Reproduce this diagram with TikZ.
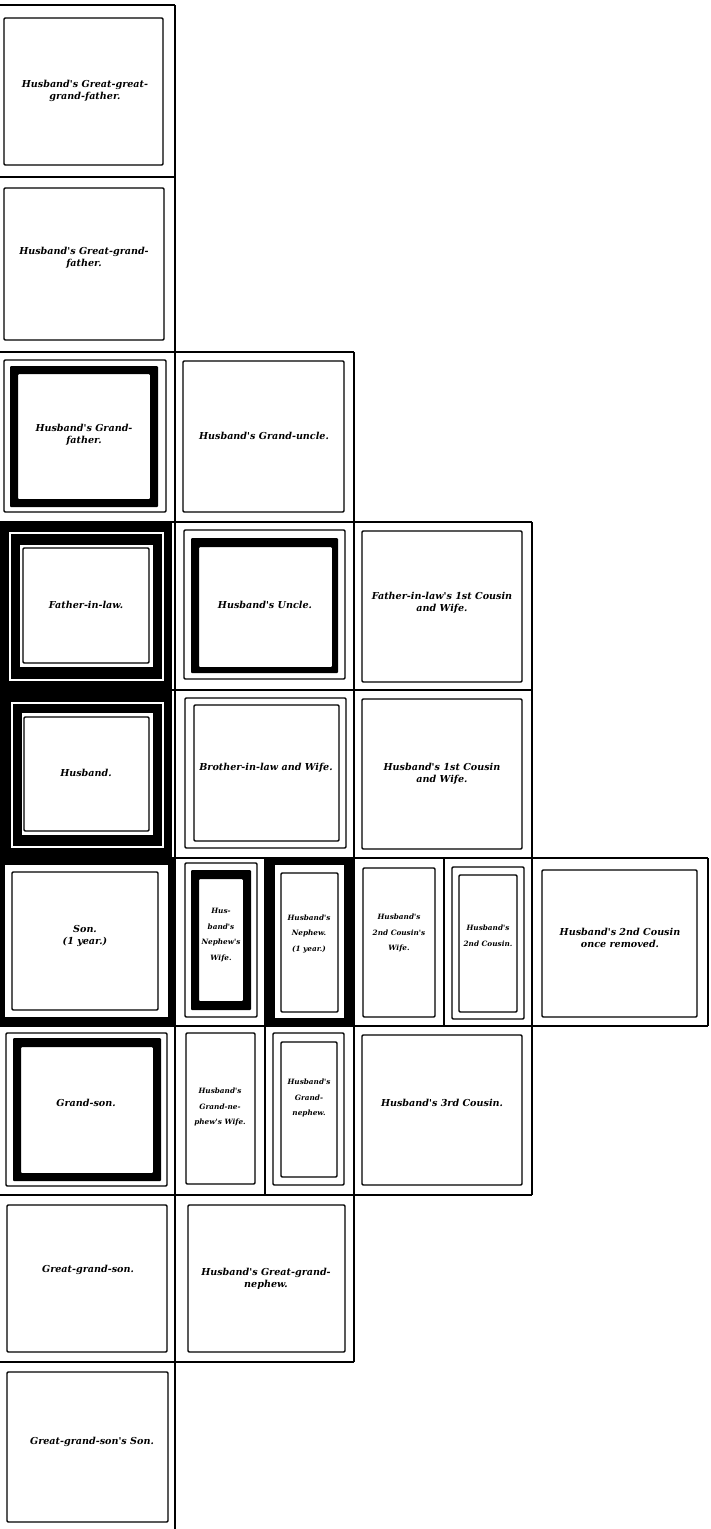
\documentclass[tikz,border=0pt]{standalone}
\usepackage{fontspec}
\newfontfamily\chartfont{DejaVu Serif}
\newcommand{\lblfont}{\chartfont\fontsize{9.6}{12}\selectfont\bfseries\itshape}
\newcommand{\nlblfont}{\chartfont\fontsize{7.3}{15.5}\selectfont\bfseries\itshape}
\begin{document}
\begin{tikzpicture}[x=1pt,y=-1pt,
  gridline/.style={line width=1.3pt},
  frame/.style={draw, line width=1.4pt, rounded corners=1.2pt},
  whiteline/.style={draw=white, line width=1.6pt},
  lbl/.style={font=\lblfont, align=center, inner sep=0pt},
  nlbl/.style={font=\nlblfont, align=center, inner sep=0pt}]
\useasboundingbox (0,0) rectangle (711,1529);
\fill[white] (0,0) rectangle (711,1529);
% black mourning fills
\fill (0,522) rectangle (172,858);
\fill (0,858) rectangle (175,1026);
\fill (265,858) rectangle (355,1026);
% grid
\draw[gridline] (0,5) -- (175,5);
\draw[gridline] (0,177) -- (175,177);
\draw[gridline] (0,352) -- (354,352);
\draw[gridline] (0,522) -- (532,522);
\draw[gridline] (0,690) -- (532,690);
\draw[gridline] (0,858) -- (708,858);
\draw[gridline] (0,1026) -- (708,1026);
\draw[gridline] (0,1195) -- (532,1195);
\draw[gridline] (0,1362) -- (354,1362);
\draw[gridline] (175,5) -- (175,1529);
\draw[gridline] (354,352) -- (354,1362);
\draw[gridline] (532,522) -- (532,1195);
\draw[gridline] (708,858) -- (708,1026);
\draw[gridline] (265,858) -- (265,1195);
\draw[gridline] (444,858) -- (444,1026);
% row 1-2
\draw[frame] (4,18) rectangle (163,165);
\draw[frame] (4,188) rectangle (164,340);
% row 3
\draw[frame] (4,360) rectangle (166,512);
\fill[even odd rule, rounded corners=1pt] (10,366) rectangle (158,507) (18,374) rectangle (150,499);
\draw[frame] (183,361) rectangle (344,512);
% row 4
\draw[whiteline] (10,533) rectangle (163,680);
\fill[white] (20,545) rectangle (153,667);
\draw[frame] (23,548) rectangle (149,663);
\draw[frame] (184,530) rectangle (345,679);
\fill[even odd rule, rounded corners=1pt] (191,538) rectangle (338,673) (199,547) rectangle (332,667);
\draw[frame] (362,531) rectangle (522,682);
% row 5
\draw[whiteline] (12,703) rectangle (163,847);
\fill[white] (22,713) rectangle (153,835);
\draw[frame] (24,717) rectangle (149,831);
\draw[frame] (185,698) rectangle (346,848);
\draw[frame] (194,705) rectangle (339,841);
\draw[frame] (362,699) rectangle (522,849);
% row 6
\fill[white] (5,865) rectangle (168,1017);
\draw[frame] (12,872) rectangle (158,1010);
\draw[frame] (185,863) rectangle (257,1017);
\fill[even odd rule, rounded corners=1pt] (191,870) rectangle (251,1010) (199,879) rectangle (243,1001);
\fill[white] (275,865) rectangle (344,1018);
\draw[frame] (281,873) rectangle (338,1012);
\draw[frame] (363,868) rectangle (435,1017);
\draw[frame] (452,867) rectangle (524,1019);
\draw[frame] (459,875) rectangle (517,1012);
\draw[frame] (542,870) rectangle (697,1017);
% row 7
\draw[frame] (6,1033) rectangle (167,1186);
\fill[even odd rule, rounded corners=1pt] (13,1038) rectangle (161,1181) (21,1047) rectangle (153,1173);
\draw[frame] (186,1033) rectangle (255,1184);
\draw[frame] (273,1033) rectangle (344,1185);
\draw[frame] (281,1042) rectangle (337,1177);
\draw[frame] (362,1035) rectangle (522,1185);
% row 8-9
\draw[frame] (7,1205) rectangle (167,1352);
\draw[frame] (188,1205) rectangle (345,1352);
\draw[frame] (7,1372) rectangle (168,1522);
% labels
\node[lbl] (gggf) at (85,91) {Husband's Great-great-\\grand-father.};
\node[lbl] (ggf) at (84,258) {Husband's Great-grand-\\father.};
\node[lbl] (gf) at (84,435) {Husband's Grand-\\father.};
\node[lbl] (gu) at (264,436) {Husband's Grand-uncle.};
\node[lbl] (fil) at (86,605) {Father-in-law.};
\node[lbl] (uncle) at (265,605) {Husband's Uncle.};
\node[lbl] (filc) at (442,603) {Father-in-law's 1st Cousin\\and Wife.};
\node[lbl] (hus) at (86,773) {Husband.};
\node[lbl] (bil) at (266,768) {Brother-in-law and Wife.};
\node[lbl] (hc) at (442,774) {Husband's 1st Cousin\\and Wife.};
\node[lbl] (son) at (85,936) {Son.\\(1 year.)};
\node[nlbl] (nw) at (221,935) {Hus-\\band's\\Nephew's\\Wife.};
\node[nlbl] (nep) at (309,934) {Husband's\\Nephew.\\(1 year.)};
\node[nlbl] (hccw) at (399,933) {Husband's\\2nd Cousin's\\Wife.};
\node[nlbl] (hcc) at (488,936) {Husband's\\2nd Cousin.};
\node[lbl] (hccr) at (620,938) {Husband's 2nd Cousin\\once removed.};
\node[lbl] (gs) at (86,1103) {Grand-son.};
\node[nlbl] (gnw) at (220,1107) {Husband's\\Grand-ne-\\phew's Wife.};
\node[nlbl] (gn) at (309,1098) {Husband's\\Grand-\\nephew.};
\node[lbl] (hccc) at (442,1103) {Husband's 3rd Cousin.};
\node[lbl] (ggs) at (88,1270) {Great-grand-son.};
\node[lbl] (ggn) at (266,1279) {Husband's Great-grand-\\nephew.};
\node[lbl] (ggss) at (92,1442) {Great-grand-son's Son.};
\end{tikzpicture}
\end{document}
